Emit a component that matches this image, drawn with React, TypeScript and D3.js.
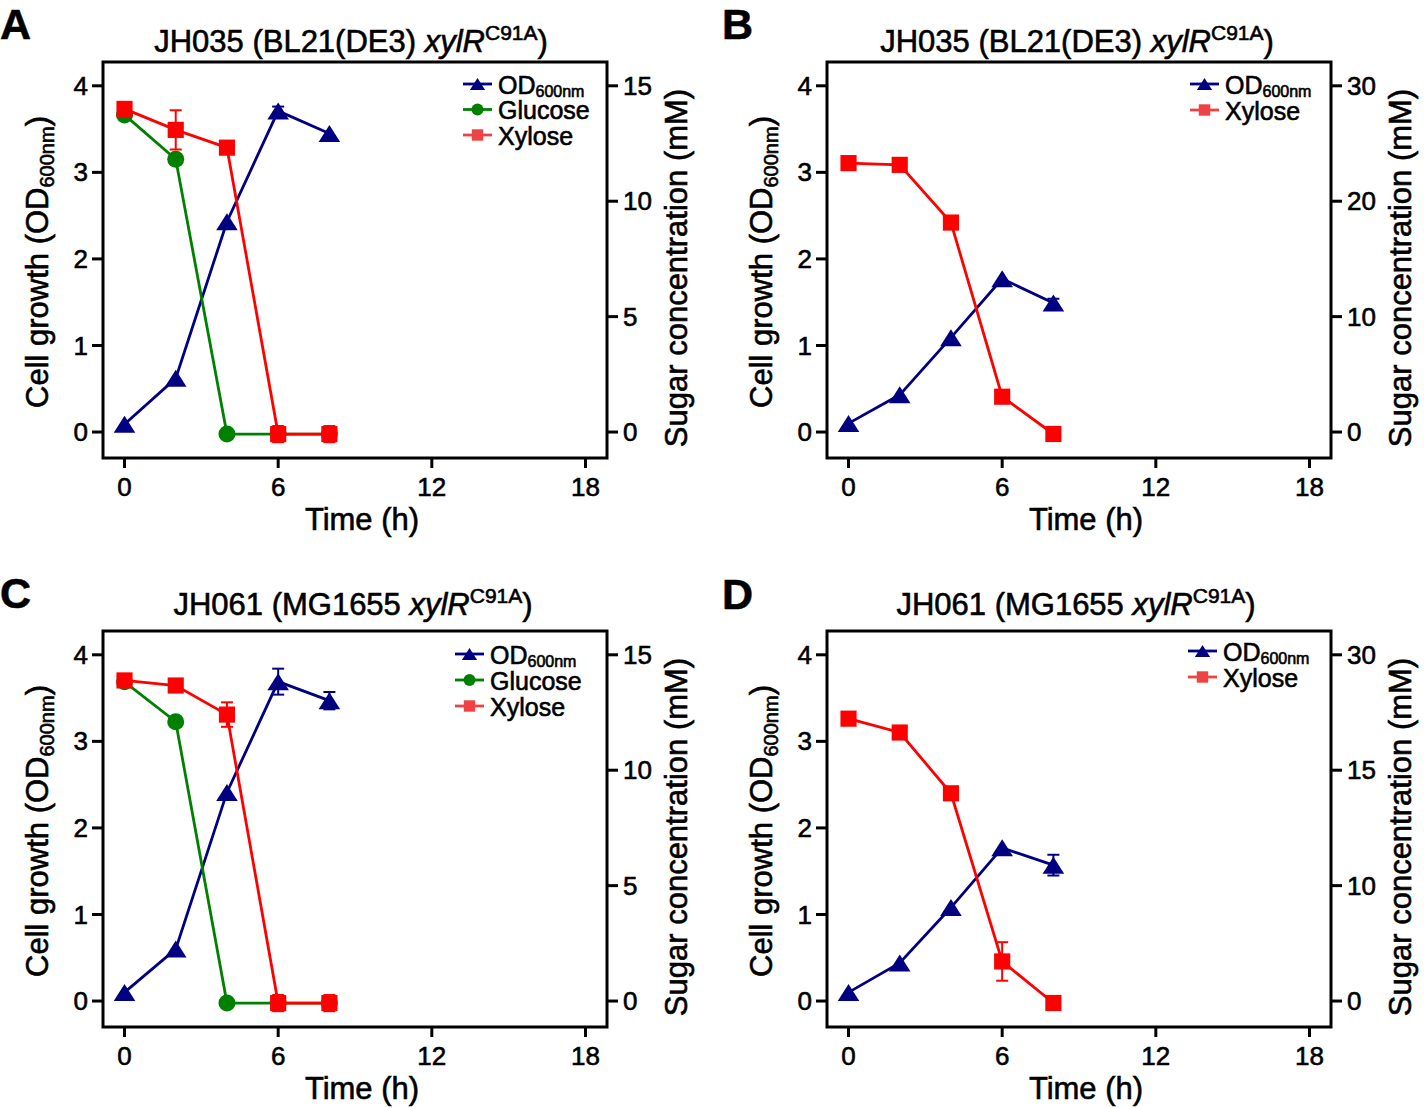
import React from "react";
import * as d3 from "d3";

// ---------- data ----------
const TIME = [0, 2, 4, 6, 8];
const X_TICKS = [0, 6, 12, 18];
const OD_TICKS = [0, 1, 2, 3, 4];
const SUGAR_TICKS_A = [0, 5, 10, 15];
const SUGAR_TICKS_B = [0, 10, 20, 30];
const SUGAR_TICKS_D = [0, 10, 15, 30];

// Panel A: JH035, glucose + xylose
const OD_A = [0.09, 0.62, 2.43, 3.71, 3.45];
const OD_ERR_A = [0, 0, 0, 0.05, 0];
const GLUCOSE_A = [13.74, 11.82, -0.09, -0.09, -0.09];
const XYLOSE_A = [14.0, 13.09, 12.32, -0.09, -0.09];
const XYLOSE_ERR_A = [0, 0.85, 0, 0.35, 0.35];

// Panel B: JH035, xylose only
const OD_B = [0.1, 0.43, 1.09, 1.77, 1.49];
const OD_ERR_B = [0, 0, 0, 0, 0.05];
const XYLOSE_B = [23.3, 23.15, 18.15, 3.06, -0.17];
const XYLOSE_ERR_B = [0, 0, 0, 0, 0];

// Panel C: JH061, glucose + xylose
const OD_C = [0.1, 0.6, 2.41, 3.69, 3.47];
const OD_ERR_C = [0, 0, 0, 0.15, 0.1];
const GLUCOSE_C = [13.83, 12.1, -0.09, -0.09, -0.09];
const XYLOSE_C = [13.89, 13.67, 12.41, -0.09, -0.09];
const XYLOSE_ERR_C = [0, 0, 0.53, 0.35, 0.35];

// Panel D: JH061, xylose only
const OD_D = [0.1, 0.44, 1.08, 1.77, 1.57];
const OD_ERR_D = [0, 0, 0, 0, 0.12];
const XYLOSE_D = [21.7, 19.9, 14.0, 3.43, -0.17];
const XYLOSE_ERR_D = [0, 0, 0, 1.67, 0];

const NAVY = "#000080";
const GREEN = "#008000";
const RED = "#ff0000";
const RED_LEGEND = "#ef4343";
const FONT = "Arial, 'Liberation Sans', Helvetica, sans-serif";
const TXT = { fontFamily: FONT, fill: "#000", stroke: "#000", strokeWidth: 0.6 };

type Series = {
  name: string;
  kind: "tri" | "circle" | "square";
  color: string;
  legendColor: string;
  axis: "left" | "right";
  values: number[];
  errors: number[];
};

type PanelDef = {
  letter: string;
  letterX: number;
  letterY: number;
  strain: string;
  host: string;
  frameLeft: number;
  frameTop: number;
  titleX: number;
  titleY: number;
  legendX: number;
  legendY: number;
  legendStep: number;
  sugarTicks: number[];
  sugarMax: number;
  piecewise: boolean;
  series: Series[];
};

const FRAME_W = 504;
const FRAME_H = 396;

function mkSeries(
  name: string,
  kind: Series["kind"],
  color: string,
  legendColor: string,
  axis: Series["axis"],
  values: number[],
  errors: number[]
): Series {
  return { name, kind, color, legendColor, axis, values, errors };
}

const PANELS: PanelDef[] = [
  {
    letter: "A", letterX: 0, letterY: 39,
    strain: "JH035", host: "(BL21(DE3) ",
    frameLeft: 103, frameTop: 62, titleX: 351, titleY: 52,
    legendX: 463, legendY: 84, legendStep: 25.5,
    sugarTicks: SUGAR_TICKS_A, sugarMax: 15, piecewise: false,
    series: [
      mkSeries("OD", "tri", NAVY, NAVY, "left", OD_A, OD_ERR_A),
      mkSeries("Glucose", "circle", GREEN, GREEN, "right", GLUCOSE_A, [0, 0, 0, 0, 0]),
      mkSeries("Xylose", "square", RED, RED_LEGEND, "right", XYLOSE_A, XYLOSE_ERR_A),
    ],
  },
  {
    letter: "B", letterX: 722, letterY: 39,
    strain: "JH035", host: "(BL21(DE3) ",
    frameLeft: 827, frameTop: 62, titleX: 1077, titleY: 52,
    legendX: 1190, legendY: 84, legendStep: 26,
    sugarTicks: SUGAR_TICKS_B, sugarMax: 30, piecewise: false,
    series: [
      mkSeries("OD", "tri", NAVY, NAVY, "left", OD_B, OD_ERR_B),
      mkSeries("Xylose", "square", RED, RED_LEGEND, "right", XYLOSE_B, XYLOSE_ERR_B),
    ],
  },
  {
    letter: "C", letterX: 0, letterY: 608,
    strain: "JH061", host: "(MG1655 ",
    frameLeft: 103, frameTop: 631, titleX: 353, titleY: 615,
    legendX: 455, legendY: 654, legendStep: 26,
    sugarTicks: SUGAR_TICKS_A, sugarMax: 15, piecewise: false,
    series: [
      mkSeries("OD", "tri", NAVY, NAVY, "left", OD_C, OD_ERR_C),
      mkSeries("Glucose", "circle", GREEN, GREEN, "right", GLUCOSE_C, [0, 0, 0, 0, 0]),
      mkSeries("Xylose", "square", RED, RED_LEGEND, "right", XYLOSE_C, XYLOSE_ERR_C),
    ],
  },
  {
    letter: "D", letterX: 722, letterY: 609,
    strain: "JH061", host: "(MG1655 ",
    frameLeft: 827, frameTop: 631, titleX: 1076, titleY: 615,
    legendX: 1188, legendY: 651, legendStep: 26,
    sugarTicks: SUGAR_TICKS_D, sugarMax: 30, piecewise: true,
    series: [
      mkSeries("OD", "tri", NAVY, NAVY, "left", OD_D, OD_ERR_D),
      mkSeries("Xylose", "square", RED, RED_LEGEND, "right", XYLOSE_D, XYLOSE_ERR_D),
    ],
  },
];

function Marker({ kind, x, y, color, size }: { kind: Series["kind"]; x: number; y: number; color: string; size: number }) {
  if (kind === "tri") {
    const w = size * 1.27;
    const h = size;
    return (
      <path
        d={`M${x},${y - h / 2}L${x + w / 2},${y + h / 2}L${x - w / 2},${y + h / 2}Z`}
        fill={color}
      />
    );
  }
  if (kind === "circle") {
    return <circle cx={x} cy={y} r={size / 2} fill={color} />;
  }
  const s = size * 0.95;
  return <rect x={x - s / 2} y={y - s / 2} width={s} height={s} fill={color} />;
}

function Panel({ p }: { p: PanelDef }) {
  const L = p.frameLeft;
  const T = p.frameTop;
  const R = L + FRAME_W;
  const B = T + FRAME_H;

  const x = d3.scaleLinear().domain([-0.84, 18.84]).range([L, R]);
  const yL = d3.scaleLinear().domain([-0.3, 4.275]).range([B, T]);
  const yR = p.piecewise
    ? d3.scaleLinear().domain(p.sugarTicks).range(p.sugarTicks.map((_, i) => yL((4 * i) / (p.sugarTicks.length - 1))))
    : d3.scaleLinear().domain([0, p.sugarMax]).range([yL(0), yL(4)]);

  const tickFs = 26;
  const titleFs = 31;

  const line = (s: Series) => {
    const ys = s.axis === "left" ? yL : yR;
    return d3
      .line<number>()
      .x((_, i) => x(TIME[i]))
      .y((v) => ys(v))(s.values) as string;
  };

  return (
    <g>
      {/* panel letter */}
      <text x={p.letterX} y={p.letterY} fontSize={43} fontWeight="bold" {...TXT}>
        {p.letter}
      </text>
      {/* title */}
      <text x={p.titleX} y={p.titleY} fontSize={titleFs} textAnchor="middle" {...TXT}>
        {p.strain} {p.host}
        <tspan fontStyle="italic">xylR</tspan>
        <tspan fontSize={21} dy={-12}>C91A</tspan>
        <tspan dy={12}>)</tspan>
      </text>

      {/* series: error bars, lines, markers */}
      {p.series.map((s) => {
        const ys = s.axis === "left" ? yL : yR;
        return (
          <g key={s.name}>
            {s.values.map((v, i) =>
              s.errors[i] > 0 ? (
                <g key={i} stroke={s.color} strokeWidth={2}>
                  <line x1={x(TIME[i])} x2={x(TIME[i])} y1={ys(v - s.errors[i])} y2={ys(v + s.errors[i])} />
                  <line x1={x(TIME[i]) - 6} x2={x(TIME[i]) + 6} y1={ys(v + s.errors[i])} y2={ys(v + s.errors[i])} />
                  <line x1={x(TIME[i]) - 6} x2={x(TIME[i]) + 6} y1={ys(v - s.errors[i])} y2={ys(v - s.errors[i])} />
                </g>
              ) : null
            )}
            <path d={line(s)} fill="none" stroke={s.color} strokeWidth={2.8} />
            {s.values.map((v, i) => (
              <Marker key={i} kind={s.kind} x={x(TIME[i])} y={ys(v)} color={s.color} size={17} />
            ))}
          </g>
        );
      })}

      {/* frame */}
      <rect x={L} y={T} width={FRAME_W} height={FRAME_H} fill="none" stroke="#000" strokeWidth={3} />

      {/* left axis */}
      {OD_TICKS.map((t) => (
        <g key={"l" + t}>
          <line x1={L - 11} x2={L} y1={yL(t)} y2={yL(t)} stroke="#000" strokeWidth={3} />
          <text x={L - 15} y={yL(t)} dy="0.35em" textAnchor="end" fontSize={tickFs} {...TXT}>
            {t}
          </text>
        </g>
      ))}
      {/* right axis */}
      {p.sugarTicks.map((t) => (
        <g key={"r" + t}>
          <line x1={R} x2={R + 11} y1={yR(t)} y2={yR(t)} stroke="#000" strokeWidth={3} />
          <text x={R + 16} y={yR(t)} dy="0.35em" textAnchor="start" fontSize={tickFs} {...TXT}>
            {t}
          </text>
        </g>
      ))}
      {/* bottom axis */}
      {X_TICKS.map((t) => (
        <g key={"x" + t}>
          <line x1={x(t)} x2={x(t)} y1={B} y2={B + 10} stroke="#000" strokeWidth={3} />
          <text x={x(t)} y={B + 38} textAnchor="middle" fontSize={tickFs} {...TXT}>
            {t}
          </text>
        </g>
      ))}

      {/* axis titles */}
      <text x={L + 259} y={B + 72} textAnchor="middle" fontSize={titleFs} {...TXT}>
        Time (h)
      </text>
      <text
        transform={`translate(${L - 55},${T + 200}) rotate(-90)`}
        textAnchor="middle"
        fontSize={titleFs}
        {...TXT}
      >
        Cell growth (OD<tspan fontSize={20} dy={6}>600nm</tspan>
        <tspan dy={-6}>)</tspan>
      </text>
      <text
        transform={`translate(${R + 80},${T + 206}) rotate(-90)`}
        textAnchor="middle"
        fontSize={titleFs}
        {...TXT}
      >
        Sugar concentration (mM)
      </text>

      {/* legend */}
      {p.series.map((s, i) => {
        const ly = p.legendY + i * p.legendStep;
        return (
          <g key={"lg" + s.name}>
            <line x1={p.legendX} x2={p.legendX + 29} y1={ly} y2={ly} stroke={s.legendColor} strokeWidth={2.8} />
            <Marker kind={s.kind} x={p.legendX + 14.5} y={ly} color={s.legendColor} size={12} />
            <text x={p.legendX + 35} y={ly + 9.5} fontSize={25} {...TXT}>
              {s.name}
              {s.name === "OD" ? (
                <tspan fontSize={16} dy={3}>600nm</tspan>
              ) : null}
            </text>
          </g>
        );
      })}
    </g>
  );
}

export default function App() {
  return (
    <svg
      width={1424}
      height={1108}
      viewBox="0 0 1424 1108"
      style={{ position: "absolute", left: 0, top: 0, background: "#fff" }}
    >
      <rect x={0} y={0} width={1424} height={1108} fill="#fff" />
      {PANELS.map((p) => (
        <Panel key={p.letter} p={p} />
      ))}
    </svg>
  );
}
